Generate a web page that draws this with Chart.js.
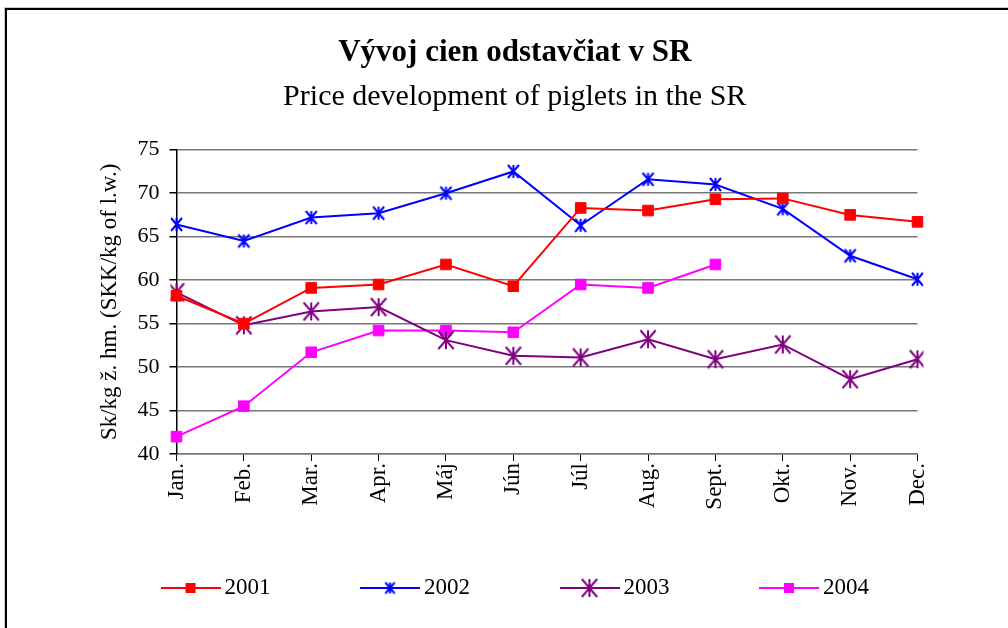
<!DOCTYPE html>
<html>
<head>
<meta charset="utf-8">
<script src="https://cdn.jsdelivr.net/npm/chart.js@4/dist/chart.umd.min.js"></script>
<style>
  html, body { margin: 0; padding: 0; background: #fff; overflow: hidden; }
  #wrap { position: relative; width: 1008px; height: 628px; }
  #frame { position: absolute; left: 5px; top: 8px; width: 1200px; height: 800px;
           border-left: 2px solid #000; border-top: 2px solid #000;
           box-shadow: -1px -1px 0 #c8c8c8; pointer-events: none; }
</style>
</head>
<body>
<div id="wrap">
  <canvas id="chart" width="1008" height="628"></canvas>
  <div id="frame"></div>
</div>
<script>
const months = ['Jan.', 'Feb.', 'Mar.', 'Apr.', 'Máj', 'Jún', 'Júl', 'Aug.', 'Sept.', 'Okt.', 'Nov.', 'Dec.'];
const years = ['2001', '2002', '2003', '2004'];
const price2001 = [58.2, 55.0, 59.1, 59.5, 61.8, 59.3, 68.3, 68.0, 69.3, 69.4, 67.5, 66.7];
const price2002 = [66.4, 64.5, 67.2, 67.7, 70.0, 72.5, 66.3, 71.6, 71.0, 68.2, 62.8, 60.1];
const price2003 = [58.6, 54.8, 56.4, 56.9, 53.1, 51.3, 51.1, 53.2, 50.9, 52.6, 48.6, 50.9];
const price2004 = [42.0, 45.5, 51.7, 54.2, 54.2, 54.0, 59.5, 59.1, 61.8, null, null, null];
const yTicks = [40, 45, 50, 55, 60, 65, 70, 75];

const SERIF = "'Liberation Serif', 'Times New Roman', serif";

// excel-like asterisk marker (X with a vertical bar)
function asterisk(color, h, lw) {
  const c = document.createElement('canvas');
  const s = Math.ceil(2 * h + lw + 2);
  c.width = c.height = s;
  const g = c.getContext('2d');
  const m = s / 2;
  g.strokeStyle = color; g.lineWidth = lw;
  g.beginPath();
  g.moveTo(m - h * 0.85, m - h); g.lineTo(m + h * 0.85, m + h);
  g.moveTo(m + h * 0.85, m - h); g.lineTo(m - h * 0.85, m + h);
  g.moveTo(m, m - h); g.lineTo(m, m + h);
  g.stroke();
  return c;
}

// legend icon: line with marker in the middle
function legendIcon(color, marker, size) {
  const c = document.createElement('canvas');
  c.width = 60; c.height = 24;
  const g = c.getContext('2d');
  g.strokeStyle = color; g.lineWidth = 2;
  g.beginPath(); g.moveTo(0, 12); g.lineTo(60, 12); g.stroke();
  if (marker === 'rect') {
    g.fillStyle = color;
    g.fillRect(30 - size / 2, 12 - size / 2, size, size);
  } else {
    g.drawImage(marker, 30 - marker.width / 2, 12 - marker.height / 2);
  }
  return c;
}

const star2002 = asterisk('#0000ff', 6.5, 2);
const star2003 = asterisk('#800080', 9, 2);
const icons = [
  legendIcon('#ff0000', 'rect', 10),
  legendIcon('#0000ff', asterisk('#0000ff', 5.5, 2), 0),
  legendIcon('#800080', star2003, 0),
  legendIcon('#ff00ff', 'rect', 10)
];

// legend and titles sit off-centre in the original, nudge them there
const placeBoxes = {
  id: 'placeBoxes',
  beforeLayout(chart) {
    const lg = chart.legend;
    if (lg && !lg._shortFit) {
      const fit = lg.fit;
      lg.fit = function () { fit.call(this); this.height = 100; };
      lg._shortFit = true;
    }
  },
  afterLayout(chart) {
    chart.legend.left = 71;
    chart.legend.right = 1200;
    chart.legend.top = 479.5;
    chart.boxes.forEach(b => {
      if (b.position === 'top' && b.options && b.options.text) { b.left += 56; b.right += 56; }
    });
  }
};

new Chart(document.getElementById('chart'), {
  type: 'line',
  data: {
    labels: months,
    datasets: [
      { label: years[0], data: price2001, borderColor: '#ff0000', backgroundColor: '#ff0000',
        borderWidth: 2, pointStyle: 'rect', pointRadius: 7.5, pointBorderWidth: 1 },
      { label: years[1], data: price2002, borderColor: '#0000ff', backgroundColor: '#0000ff',
        borderWidth: 2, pointStyle: star2002 },
      { label: years[2], data: price2003, borderColor: '#800080', backgroundColor: '#800080',
        borderWidth: 2, pointStyle: star2003 },
      { label: years[3], data: price2004, borderColor: '#ff00ff', backgroundColor: '#ff00ff',
        borderWidth: 2, pointStyle: 'rect', pointRadius: 7.5, pointBorderWidth: 1 }
    ]
  },
  options: {
    responsive: false,
    animation: false,
    devicePixelRatio: 1,
    elements: { line: { tension: 0 } },
    layout: { padding: { left: 0, right: 90.5, top: 0, bottom: 0 } },
    plugins: {
      tooltip: { enabled: false },
      title: {
        display: true, text: 'Vývoj cien odstavčiat v SR', color: '#000',
        font: { family: SERIF, size: 31, weight: 'bold' }, padding: { top: 34, bottom: 0 }
      },
      subtitle: {
        display: true, text: 'Price development of piglets in the SR', color: '#000',
        font: { family: SERIF, size: 30 }, padding: { top: 7.5, bottom: 35 }
      },
      legend: {
        position: 'bottom', align: 'start',
        labels: {
          usePointStyle: true, pointStyleWidth: 45, padding: 97, color: '#000',
          font: { family: SERIF, size: 23 },
          generateLabels: chart => chart.data.datasets.map((d, i) => ({
            text: d.label, pointStyle: icons[i], datasetIndex: i, hidden: false,
            lineWidth: 0, strokeStyle: 'transparent', fillStyle: 'transparent', fontColor: '#000'
          }))
        }
      }
    },
    scales: {
      x: {
        grid: { drawOnChartArea: false, tickLength: 7, color: '#000', lineWidth: 1 },
        border: { color: '#777', width: 1.5 },
        ticks: { autoSkip: false, maxRotation: 90, minRotation: 90, padding: 2, color: '#000',
                 font: { family: SERIF, size: 23 } },
        afterFit: s => { s.height = 74; }
      },
      y: {
        min: yTicks[0], max: yTicks[yTicks.length - 1],
        grid: { color: '#777', lineWidth: 1.5, tickLength: 7, tickColor: '#000' },
        border: { color: '#000', width: 1.5 },
        ticks: { stepSize: yTicks[1] - yTicks[0], padding: 10, color: '#000',
                 font: { family: SERIF, size: 22 } },
        title: { display: true, text: 'Sk/kg ž. hm. (SKK/kg of l.w.)', color: '#000',
                 font: { family: SERIF, size: 23 }, padding: { top: 96, bottom: 0 } },
        afterFit: s => { s.width = 176.5; }
      }
    }
  },
  plugins: [placeBoxes]
});
</script>
</body>
</html>
